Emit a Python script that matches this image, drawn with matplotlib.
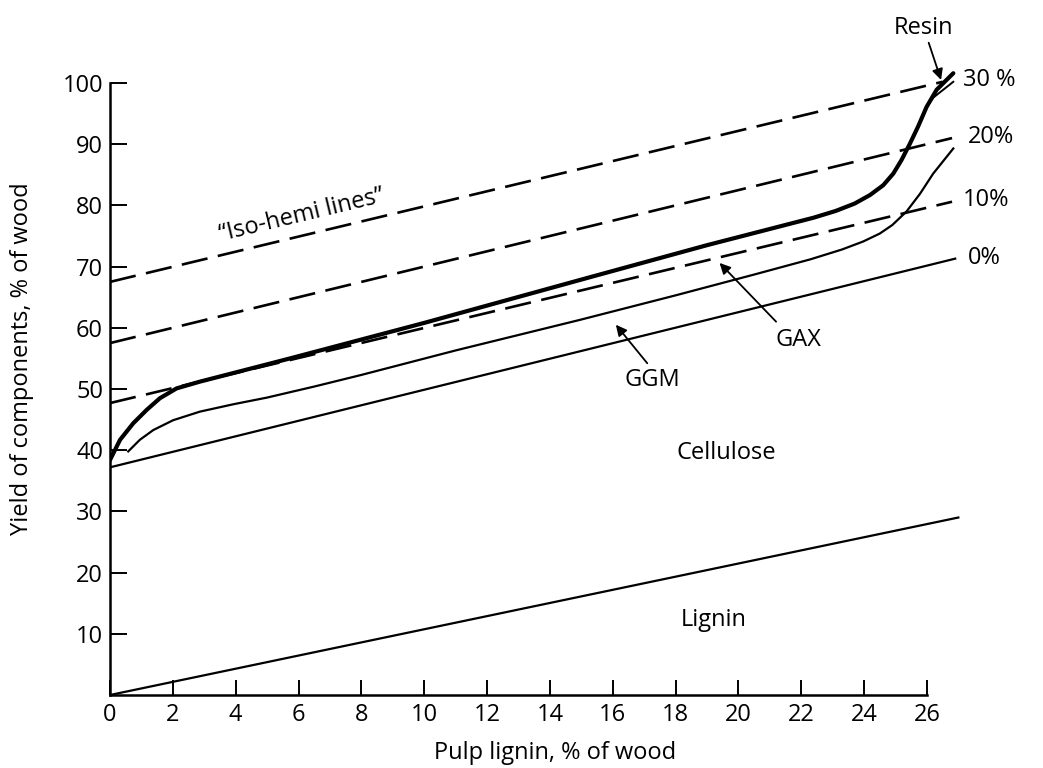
import matplotlib
matplotlib.use("Agg")
import matplotlib.pyplot as plt

plt.rcParams['font.family'] = ['Open Sans', 'DejaVu Sans']

# lignin in pulp (straight line from origin)
lignin_x = [0, 27.0]
lignin_y = [0, 29.0]

# cellulose line (= 0 % iso-hemi line)
cellulose_x = [0, 26.9]
cellulose_y = [37.2, 71.3]

# iso-hemi dashed lines: 10, 20, 30 %
iso_start_y = [47.7, 57.5, 67.5]
iso_end_x = [26.8, 26.8, 26.5]
iso_end_y = [80.6, 91.0, 100.2]

# GGM upper boundary (thin curve)
ggm_x = [0.58, 0.95, 1.38, 2.01, 2.86, 3.92, 5.0, 6.5, 8.0, 11.0, 14.96, 18.0,
         20.5, 22.3, 23.3, 23.97, 24.5, 24.9, 25.35, 25.78, 26.2, 26.84]
ggm_y = [39.8, 41.7, 43.3, 44.9, 46.3, 47.5, 48.6, 50.4, 52.3, 56.3, 61.3, 65.3,
         68.7, 71.2, 72.8, 74.1, 75.4, 76.8, 79.0, 81.9, 85.2, 89.3]

# GAX upper boundary (thick curve)
gax_x = [0, 0.32, 0.74, 1.17, 1.59, 2.12, 2.86, 3.92, 5.73, 10.0, 15.3, 19.0,
         22.4, 23.1, 23.7, 24.19, 24.61, 24.93, 25.19, 25.46, 25.72, 25.99, 26.31, 26.84]
gax_y = [38.4, 41.7, 44.4, 46.6, 48.5, 50.1, 51.2, 52.6, 55.0, 60.8, 68.3, 73.5,
         78.0, 79.1, 80.3, 81.7, 83.3, 85.2, 87.4, 90.1, 92.9, 96.1, 98.9, 101.6]

# resin branch
resin_x = [25.99, 26.2, 26.84]
resin_y = [96.1, 97.6, 100.2]

fig = plt.figure(figsize=(10.43, 7.68), dpi=100)
ax = fig.add_axes([110 / 1043, 73 / 768, 890 / 1043, 112 * 6.12 / 768])
ax.set_xlim(0, 890 / 31.42)
ax.set_ylim(0, 112)

k = 'black'
ax.plot(lignin_x, lignin_y, color=k, lw=1.6)
ax.plot(cellulose_x, cellulose_y, color=k, lw=1.6)
for s, ex, ey in zip(iso_start_y, iso_end_x, iso_end_y):
    ax.plot([0, ex], [s, ey], color=k, lw=1.9, dashes=(10, 4))
ax.plot(ggm_x, ggm_y, color=k, lw=1.6, solid_joinstyle='round')
ax.plot(gax_x, gax_y, color=k, lw=3.0, solid_capstyle='round',
        solid_joinstyle='round')
ax.plot(resin_x, resin_y, color=k, lw=1.4)

# labels at the right end of the iso-hemi lines
fs = 17
ax.text(27.15, 100.5, "30 %", fontsize=fs, va='center', ha='left')
ax.text(27.3, 91.2, "20%", fontsize=fs, va='center', ha='left')
ax.text(27.15, 80.9, "10%", fontsize=fs, va='center', ha='left')
ax.text(27.3, 71.4, "0%", fontsize=fs, va='center', ha='left')

ax.text(6.1, 78.3, "\u201cIso-hemi lines\u201d", fontsize=fs, rotation=13.5,
        ha='center', va='center')
ax.text(19.6, 39.5, "Cellulose", fontsize=fs, ha='center', va='center')
ax.text(19.2, 12.3, "Lignin", fontsize=fs, ha='center', va='center')

arrow = dict(arrowstyle='-|>', color=k, lw=1.3, mutation_scale=16,
             shrinkA=0, shrinkB=0)
ax.annotate("Resin", xy=(26.45, 100.5), xytext=(25.9, 109.0), fontsize=fs,
            ha='center', va='center', arrowprops=arrow)
ax.annotate("", xy=(19.4, 70.6), xytext=(21.2, 61.0), arrowprops=arrow)
ax.text(21.9, 58.0, "GAX", fontsize=fs, ha='center', va='center')
ax.annotate("", xy=(16.1, 60.5), xytext=(17.1, 54.2), arrowprops=arrow)
ax.text(17.25, 51.5, "GGM", fontsize=fs, ha='center', va='center')

# axes styling
for side in ['top', 'right']:
    ax.spines[side].set_visible(False)
ax.spines['left'].set_bounds(0, 100)
ax.spines['bottom'].set_bounds(0, 26)
ax.spines['left'].set_linewidth(1.8)
ax.spines['bottom'].set_linewidth(1.8)

ax.set_xticks(range(0, 27, 2))
ax.set_yticks(range(10, 101, 10))
ax.tick_params(axis='y', direction='in', length=12, width=1.4, labelsize=fs, pad=5)
ax.tick_params(axis='x', direction='in', length=11, width=1.4, labelsize=fs, pad=6)

ax.set_xlabel("Pulp lignin, % of wood", fontsize=fs, labelpad=10)
ax.set_ylabel("Yield of components, % of wood", fontsize=fs, labelpad=10)
ax.yaxis.set_label_coords(-0.085, 0.49)

fig.savefig("out.png", dpi=100)
